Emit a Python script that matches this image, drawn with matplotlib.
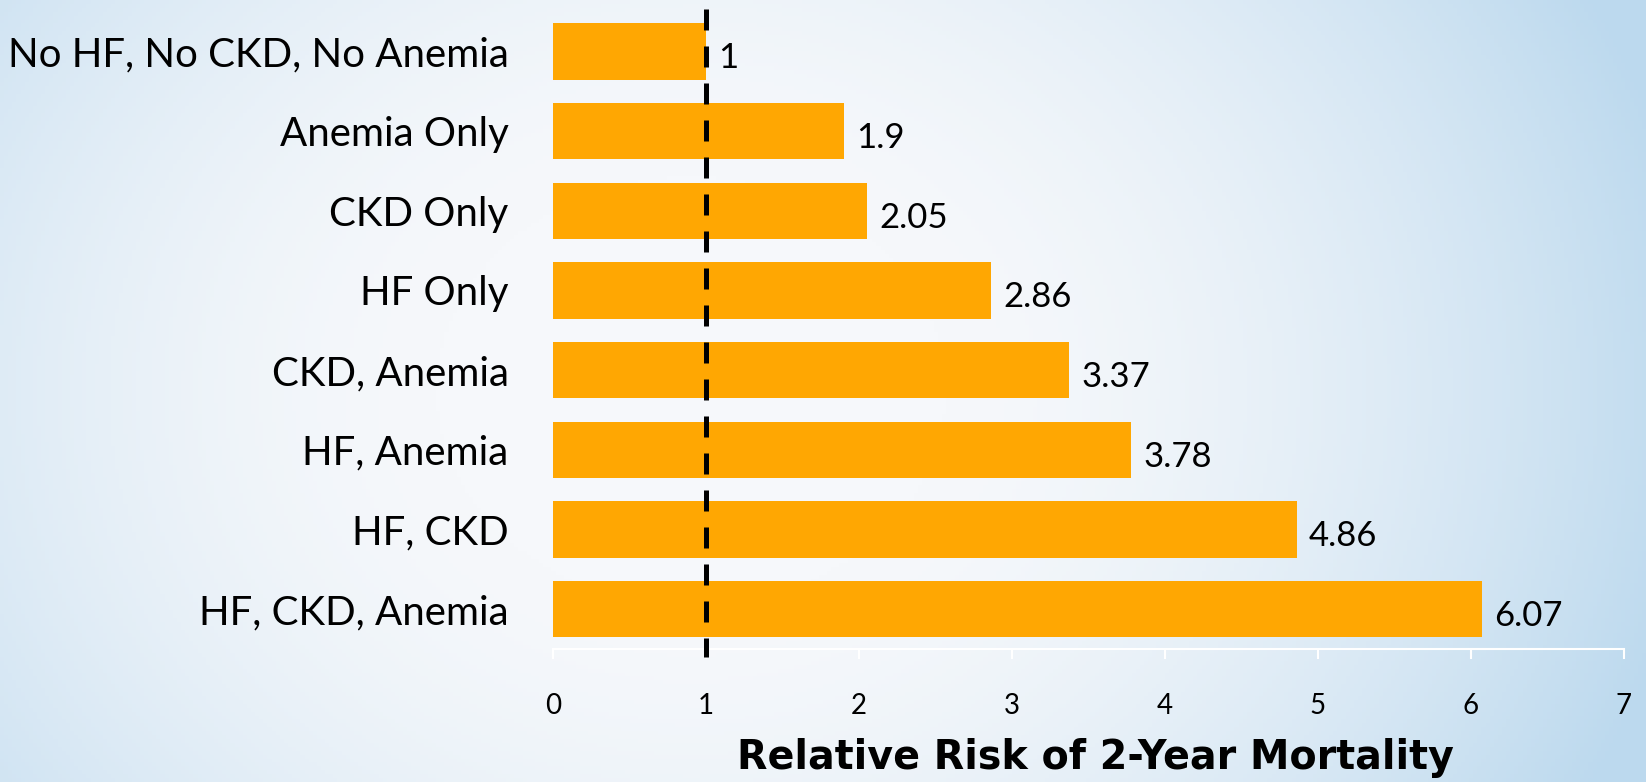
import matplotlib
matplotlib.use("Agg")
import matplotlib.pyplot as plt
import numpy as np
from matplotlib.colors import to_rgb

groups = ["No HF, No CKD, No Anemia", "Anemia Only", "CKD Only", "HF Only",
          "CKD, Anemia", "HF, Anemia", "HF, CKD", "HF, CKD, Anemia"]
risk = [1, 1.9, 2.05, 2.86, 3.37, 3.78, 4.86, 6.07]
risk_labels = ["1", "1.9", "2.05", "2.86", "3.37", "3.78", "4.86", "6.07"]
xticks = [0, 1, 2, 3, 4, 5, 6, 7]

plt.rcParams['font.family'] = ['Lato', 'DejaVu Sans']

W, H = 1646, 782
fig = plt.figure(figsize=(W / 100, H / 100), dpi=100)

# soft blue slide background
bg = fig.add_axes([0, 0, 1, 1], zorder=-10)
gx, gy = np.meshgrid(np.linspace(0, 1, 400), np.linspace(0, 1, 200))
r = np.sqrt(((gx - 0.42) / 0.62) ** 2 + ((gy - 0.5) / 1.1) ** 2)
t = np.clip((r - 0.25) / 0.75, 0, 1) ** 1.6
c0 = np.array(to_rgb("#f6f8fb"))
c1 = np.array(to_rgb("#bcd9ee"))
img = c0 + (c1 - c0) * t[..., None]
bg.imshow(img, extent=[0, 1, 0, 1], aspect='auto', origin='lower')
bg.axis('off')

ax = fig.add_axes([553 / W, 1 - 649 / H, (1624 - 553) / W, (649 - 11.6) / H])
ax.patch.set_alpha(0)

y = np.arange(len(groups))
ax.barh(y, risk, height=0.71, color="#ffa702", zorder=2)
ax.set_ylim(len(groups) - 0.5, -0.5)
ax.set_xlim(0, 7)

# reference line at relative risk 1
ax.plot([1, 1], [-0.53, 7.6], color="black", lw=3.6,
        linestyle=(0, (4.2, 3.2)), clip_on=False, zorder=3)

for yi, v, s in zip(y, risk, risk_labels):
    ax.annotate(s, (v, yi), xytext=(9, -5), textcoords='offset points',
                ha='left', va='center', fontsize=25, color='black')

ax.set_yticks(y)
ax.set_yticklabels(groups, fontsize=29)
ax.tick_params(axis='y', length=0, pad=32)

ax.set_xticks(xticks)
ax.set_xticklabels([str(v) for v in xticks], fontsize=20)
ax.tick_params(axis='x', direction='out', length=7, width=1.5,
               color='white', pad=25)

for side in ['top', 'right', 'left']:
    ax.spines[side].set_visible(False)
ax.spines['bottom'].set_color('white')
ax.spines['bottom'].set_linewidth(1.5)

ax.set_xlabel("Relative Risk of 2-Year Mortality", fontsize=28.5,
              fontweight='bold', family='DejaVu Sans', va='center')
ax.xaxis.set_label_coords((1095 - 553) / 1071, -(758 - 649) / 637.4)

fig.savefig("out.png", dpi=100)
